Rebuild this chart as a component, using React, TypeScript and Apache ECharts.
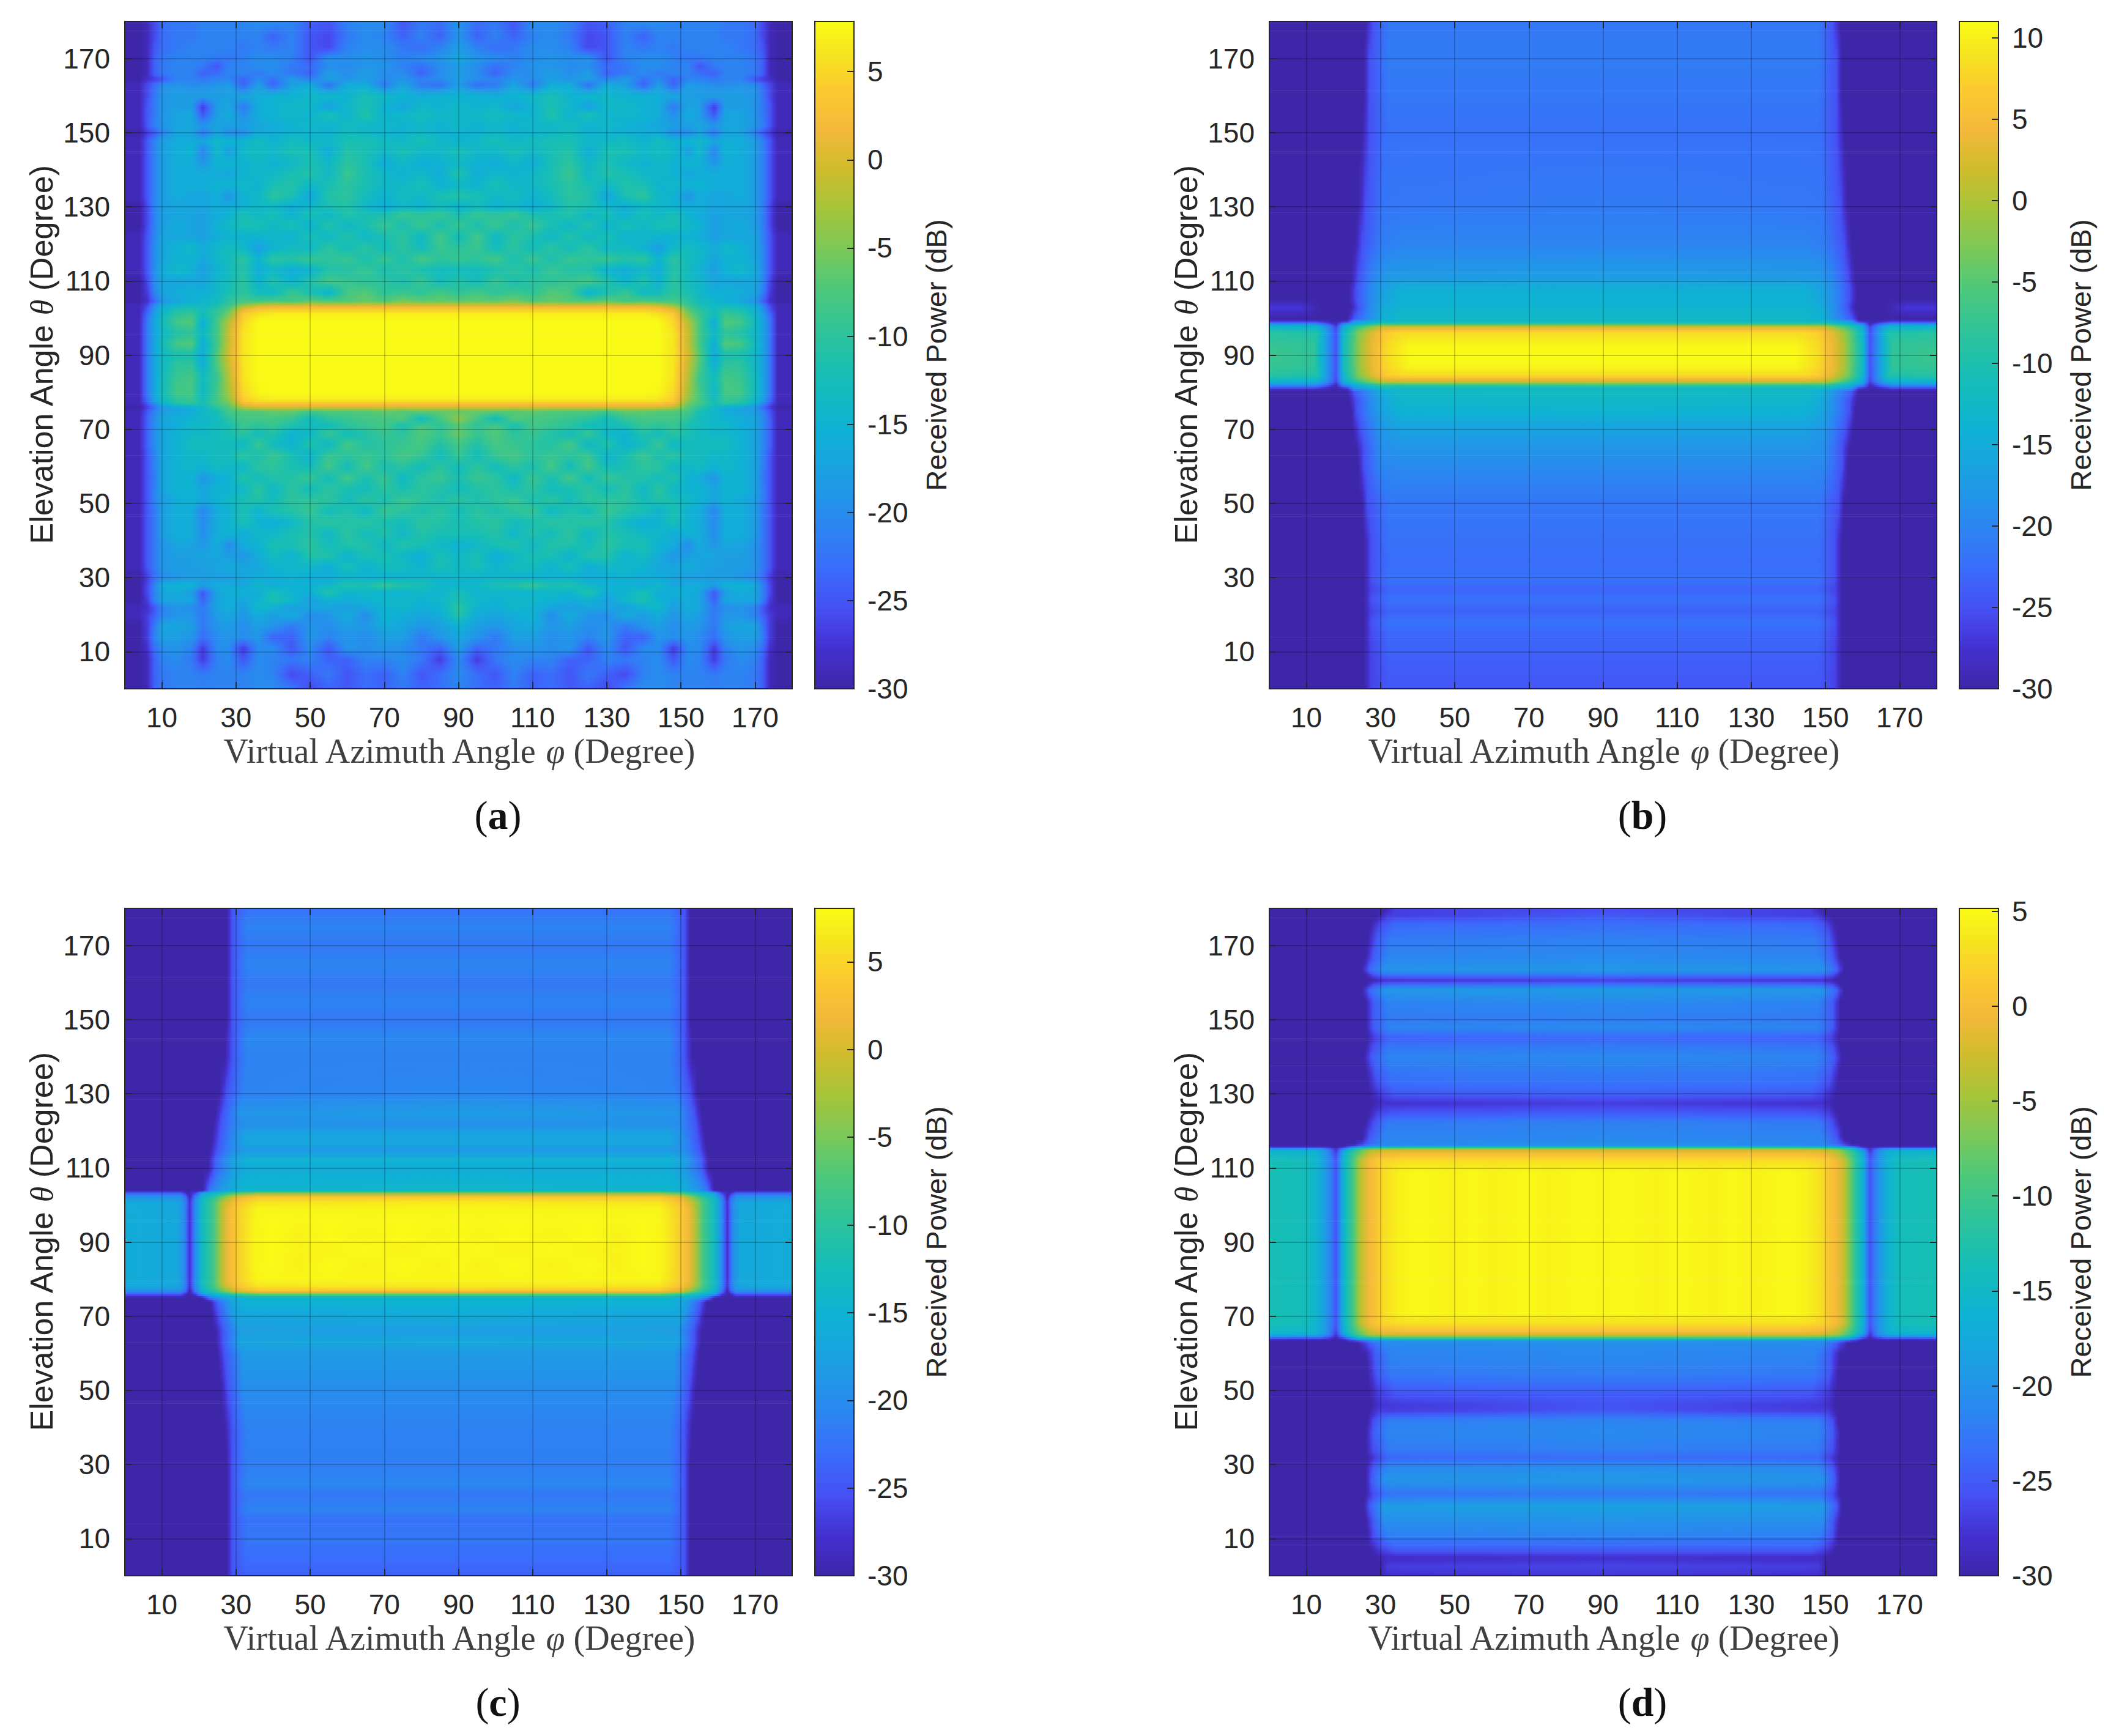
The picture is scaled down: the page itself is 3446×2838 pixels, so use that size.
import React, { useEffect, useRef } from "react";
import * as echarts from "echarts";

// ---- axis ticks ----
const angleTicks = [10, 30, 50, 70, 90, 110, 130, 150, 170];
const colorTicksA = [-30, -25, -20, -15, -10, -5, 0, 5];
const colorTicksB = [-30, -25, -20, -15, -10, -5, 0, 5, 10];
const colorMaxA = 7.85;
const colorMaxB = 11;
const colorMaxC = 8.05;
const colorMaxD = 5.15;

// colour scale: [position, colour]
const colorScale: [number, string][] = [
  [0, "#3e26a8"], [0.06, "#4430d0"], [0.12, "#4650f4"], [0.18, "#3a6cfb"], [0.25, "#2a88f0"],
  [0.32, "#1c9fe2"], [0.39, "#0eb2d4"], [0.46, "#14bdb9"], [0.53, "#2cc39c"], [0.6, "#4dc87a"],
  [0.66, "#7cc858"], [0.72, "#a6c43a"], [0.78, "#d0bc2c"], [0.84, "#f5b83a"], [0.9, "#fbcb2e"],
  [0.95, "#f6e41f"], [1, "#f9fb15"],
];

// ---- readings: left half of every map, phi in 0..90, the pictures are mirrored about phi = 90 ----
// Panel (a): one row per theta, values at these phi knots
const aPhi = [4, 6, 8, 10, 14, 18, 21, 25, 28, 32, 36, 40, 45, 50, 55, 60, 65, 70, 75, 80, 85, 90];
const aMatrix: number[][] = [
  [0, -30,-29,-24,-22,-21,-21,-21,-21,-21,-21,-20,-20,-22,-26,-24,-25,-23,-24,-22,-24,-23,-21],
  [4, -30,-29,-24,-22,-21,-21,-22,-21,-21,-21,-20,-21,-26,-24,-22,-25,-23,-24,-21,-25,-23,-20],
  [8, -30,-29,-24,-21,-20,-22,-27,-21,-20,-25,-20,-21,-22,-21,-24,-24,-21,-21,-20,-22,-27,-20],
  [11, -30,-28,-23,-20,-19,-21,-27,-20,-20,-27,-20,-20,-25,-20,-25,-19,-20,-19,-20,-22,-24,-18],
  [14, -30,-27,-21,-18,-18,-19,-23,-20,-19,-20,-19,-24,-24,-19,-21,-19,-20,-18,-18,-22,-19,-17],
  [17, -30,-27,-22,-17,-17,-18,-22,-19,-18,-20,-18,-19,-22,-19,-20,-18,-19,-16,-17,-19,-18,-15],
  [20, -29,-27,-24,-21,-19,-19,-22,-18,-17,-19,-16,-18,-16,-20,-19,-16,-20,-15,-16,-17,-16,-11],
  [22, -29,-28,-25,-21,-19,-20,-22,-17,-16,-18,-14,-15,-18,-17,-17,-18,-17,-15,-14,-16,-15,-10],
  [24, -30,-27,-21,-17,-17,-17,-24,-17,-16,-17,-15,-12,-14,-18,-15,-16,-15,-14,-14,-15,-14,-12],
  [26, -30,-26,-21,-17,-16,-18,-25,-17,-16,-15,-16,-12,-15,-16,-11,-15,-14,-15,-15,-14,-15,-12],
  [28, -30,-26,-21,-16,-15,-15,-18,-16,-16,-17,-14,-16,-15,-15,-14,-11,-12,-9,-11,-12,-14,-15],
  [30, -30,-27,-23,-20,-19,-18,-18,-18,-18,-17,-16,-16,-15,-16,-16,-15,-15,-15,-15,-14,-15,-14],
  [33, -29,-25,-22,-19,-18,-18,-18,-17,-16,-17,-17,-15,-14,-14,-16,-12,-15,-13,-13,-15,-12,-14],
  [36, -29,-25,-22,-19,-18,-18,-17,-17,-18,-19,-16,-13,-15,-11,-11,-15,-12,-12,-14,-16,-12,-14],
  [39, -29,-25,-22,-19,-17,-17,-19,-16,-20,-16,-15,-12,-12,-10,-13,-11,-11,-14,-11,-12,-14,-15],
  [42, -29,-25,-22,-18,-16,-16,-20,-16,-15,-16,-14,-14,-12,-11,-14,-10,-13,-11,-14,-11,-12,-12],
  [45, -29,-25,-22,-18,-16,-16,-20,-16,-15,-12,-15,-16,-14,-11,-10,-11,-10,-12,-13,-10,-11,-12],
  [48, -29,-25,-22,-18,-16,-16,-21,-16,-15,-12,-15,-12,-11,-9,-13,-11,-14,-9,-10,-12,-10,-13],
  [51, -29,-25,-21,-18,-16,-15,-17,-15,-14,-12,-11,-13,-10,-10,-10,-13,-10,-12,-9,-10,-12,-10],
  [54, -29,-25,-21,-17,-15,-15,-17,-15,-15,-14,-10,-14,-10,-13,-10,-12,-13,-10,-12,-10,-11,-13],
  [57, -29,-25,-22,-17,-15,-15,-19,-16,-15,-11,-13,-11,-11,-9,-13,-8,-12,-9,-14,-10,-9,-12],
  [60, -29,-25,-21,-17,-15,-14,-15,-13,-14,-14,-10,-10,-12,-13,-8,-13,-8,-12,-10,-13,-10,-13],
  [63, -29,-25,-21,-17,-15,-14,-14,-13,-13,-10,-12,-9,-12,-15,-9,-10,-9,-10,-8,-9,-13,-9],
  [66, -29,-24,-20,-17,-15,-13,-13,-13,-13,-14,-9,-13,-15,-11,-14,-8,-11,-10,-9,-8,-11,-8],
  [69, -29,-24,-20,-17,-15,-14,-14,-13,-12,-10,-13,-11,-15,-14,-9,-13,-11,-9,-10,-7,-9,-6],
  [71, -29,-24,-20,-17,-16,-14,-14,-13,-12,-9,-10,-9,-12,-13,-13,-10,-9,-8,-12,-8,-10,-7],
  [73, -29,-24,-20,-17,-16,-15,-14,-13,-10,-8,-8,-8,-9,-13,-10,-9,-8,-8,-7,-13,-8,-4],
  [75, -29,-25,-21,-18,-17,-16,-14,-12,-8,-7,-7,-6,-6,-8,-7,-7,-7,-6,-7,-6,-6,-6],
  [76, -30,-27,-23,-19,-17,-16,-14,-10,-7,-2,0,0],
  [77, -29,-25,-20,-15,-11,-10,-12,-8,-6,2,3,3],
  [78, -29,-23,-17,-14,-10,-9,-13,-8,-4,4,6,6.5],
  [80, -29,-22,-17,-13,-8,-8,-14,-8,-3,5,7.3,7.8],
  [84, -29,-22,-17,-13,-9,-8,-13,-9,-2,6,7.8],
  [88, -29,-22,-17,-14,-10,-10,-16,-7,-1,6,7.8],
  [90, -29,-22,-17,-14,-12,-12,-16,-7,0,6,7.8],
  [93, -29,-22,-17,-13,-8,-7,-16,-8,-1,6,7.8],
  [96, -29,-22,-17,-14,-11,-10,-14,-8,-1,6,7.8],
  [99, -29,-22,-17,-13,-8,-7,-16,-8,-2,5,7.8],
  [101, -29,-23,-18,-14,-10,-9,-13,-9,-5,4,6,7],
  [102.5, -29,-25,-19,-15,-12,-11,-13,-10,-7,1,3,4],
  [103.5, -29,-26,-20,-16,-14,-13,-14,-12,-9,-4,-1,0],
  [104.5, -30,-28,-24,-19,-17,-16,-14,-13,-10,-8,-8,-7,-8,-6,-7,-7,-6,-7,-5,-6,-6,-6],
  [107, -30,-27,-21,-17,-16,-15,-16,-14,-12,-10,-13,-14,-9,-12,-15,-8,-7,-10,-9,-10,-8,-10],
  [110, -30,-26,-20,-17,-17,-17,-17,-14,-13,-10,-15,-11,-15,-11,-8,-9,-10,-10,-12,-9,-13,-11],
  [113, -29,-25,-20,-16,-14,-15,-18,-15,-13,-11,-16,-14,-16,-15,-11,-11,-9,-12,-10,-12,-13,-13],
  [116, -29,-25,-20,-17,-15,-15,-17,-14,-13,-10,-15,-10,-11,-9,-10,-9,-12,-9,-12,-8,-10,-9],
  [119, -29,-25,-20,-17,-15,-14,-16,-14,-13,-14,-18,-15,-13,-14,-10,-13,-10,-13,-10,-13,-9,-10],
  [122, -29,-25,-21,-17,-17,-17,-18,-16,-15,-15,-15,-14,-15,-12,-14,-11,-14,-12,-10,-14,-8,-13],
  [125, -30,-26,-21,-18,-16,-17,-18,-15,-14,-12,-12,-14,-12,-15,-11,-14,-12,-9,-12,-9,-12,-9],
  [128, -30,-26,-21,-18,-17,-17,-18,-16,-15,-12,-14,-12,-15,-12,-14,-11,-12,-12,-9,-10,-9,-12],
  [130, -30,-26,-21,-18,-17,-17,-17,-16,-16,-15,-14,-14,-16,-14,-12,-11,-14,-16,-14,-15,-13,-15],
  [133, -29,-25,-21,-18,-16,-17,-17,-16,-19,-15,-14,-10,-12,-17,-11,-10,-13,-15,-13,-14,-12,-11],
  [136, -29,-25,-21,-18,-16,-16,-16,-15,-15,-14,-15,-12,-11,-14,-12,-10,-12,-14,-14,-12,-15,-14],
  [139, -29,-25,-21,-18,-16,-16,-16,-16,-17,-15,-14,-14,-12,-11,-14,-9,-12,-14,-15,-14,-16,-11],
  [142, -29,-25,-21,-18,-16,-16,-19,-15,-15,-15,-14,-15,-14,-12,-14,-10,-12,-16,-14,-16,-15,-14],
  [145, -29,-25,-21,-18,-16,-15,-21,-14,-18,-14,-13,-14,-12,-12,-16,-11,-12,-14,-12,-14,-14,-12],
  [148, -29,-25,-21,-18,-16,-16,-17,-14,-15,-15,-13,-15,-13,-14,-14,-12,-12,-13,-14,-12,-14,-15],
  [150, -30,-27,-25,-21,-17,-17,-22,-17,-20,-20,-16,-16,-15,-15,-15,-13,-14,-15,-15,-14,-15,-15],
  [152, -29,-25,-21,-19,-17,-17,-19,-17,-18,-18,-17,-16,-15,-14,-15,-13,-14,-14,-15,-14,-15,-14],
  [155, -29,-25,-22,-19,-17,-17,-25,-18,-16,-20,-16,-15,-14,-15,-12,-15,-11,-15,-14,-13,-14,-14],
  [157, -29,-25,-22,-19,-18,-18,-27,-18,-17,-22,-16,-15,-14,-14,-18,-14,-12,-15,-17,-14,-15,-14],
  [160, -29,-26,-22,-19,-18,-18,-18,-18,-18,-17,-16,-15,-15,-14,-14,-15,-12,-14,-15,-16,-15,-15],
  [163, -29,-26,-23,-20,-19,-20,-20,-19,-18,-24,-18,-24,-18,-16,-23,-16,-16,-22,-17,-22,-23,-18],
  [164.5, -30,-28,-27,-25,-21,-21,-22,-21,-21,-24,-20,-23,-18,-21,-18,-19,-18,-20,-19,-21,-20,-18],
  [166, -30,-29,-24,-22,-21,-21,-24,-23,-21,-21,-22,-20,-22,-24,-18,-20,-18,-20,-20,-24,-20,-18],
  [168, -30,-29,-24,-22,-21,-21,-22,-25,-21,-21,-20,-20,-22,-23,-20,-20,-19,-19,-21,-23,-20,-18],
  [170, -30,-29,-24,-22,-21,-21,-21,-22,-22,-21,-20,-20,-21,-25,-19,-20,-19,-20,-21,-20,-19,-17],
  [173, -30,-29,-25,-23,-22,-21,-21,-21,-21,-22,-21,-22,-21,-25,-26,-21,-20,-20,-22,-23,-21,-18],
  [176, -30,-29,-26,-23,-22,-22,-21,-21,-21,-21,-21,-24,-21,-25,-26,-22,-20,-21,-24,-21,-24,-19],
  [180, -30,-29,-26,-23,-22,-22,-21,-21,-21,-21,-20,-20,-21,-24,-25,-21,-20,-20,-25,-22,-23,-19],
];

// Panels (b)-(d): [theta, phi, value, phi, value, ...]
const bRows: number[][] = [
  [0, 25.5,-30, 27.5,-26, 32,-24.5, 90,-24.5],
  [6, 25.5,-30, 27.5,-26, 32,-24, 90,-24],
  [10, 25.5,-30, 27.5,-26, 32,-23.5, 90,-23.5],
  [15, 25.5,-30, 27.5,-25.5, 32,-23, 90,-23],
  [18, 25.5,-30, 27.5,-25, 32,-22, 90,-22],
  [21, 25.5,-30, 27.5,-26, 32,-23.5, 90,-23.5],
  [24, 25.5,-30, 27.5,-25, 32,-22.2, 90,-22.2],
  [27, 25.5,-30, 27.5,-26, 32,-23.2, 90,-23.2],
  [30, 25.5,-30, 27.5,-25, 32,-22, 90,-22],
  [35, 25.5,-30, 27.5,-25, 32,-22.5, 90,-22.5],
  [40, 25.5,-30, 27.5,-25, 32,-22, 90,-22],
  [50, 25,-30, 26.5,-25, 32,-21.5, 90,-21.5],
  [60, 24,-30, 25.5,-25, 30,-20, 36,-19.5, 90,-19.5],
  [65, 23.5,-30, 25.5,-25, 30,-19, 36,-18, 90,-18],
  [70, 22.5,-30, 24.5,-25, 30,-18, 36,-16.5, 90,-16.5],
  [75, 22,-30, 23.5,-25, 27,-20, 31,-16, 36,-14, 90,-13.5],
  [78, 21.5,-30, 23.5,-25, 27,-20, 30,-16, 35,-13, 90,-12.5],
  [80.5, 21,-30, 23,-24, 27,-19, 31,-14, 36,-12.5, 90,-12],
  [81, 0,-27, 12,-27, 17,-30, 21,-28, 23,-18, 30,-13, 90,-13],
  [82, 0,-19, 12,-19, 15,-23, 18,-29, 20,-20, 24,-14, 30,-8, 90,-7],
  [83, 0,-13, 13,-14, 16,-20, 18,-26, 20,-15, 24,-7, 30,1, 36,2, 90,2],
  [84.5, 0,-9, 13,-10, 16,-19, 18,-25, 20,-13, 24,-3, 28,3, 32,7, 36,8, 90,8],
  [87, 0,-7.5, 12,-8, 15,-16, 18,-25, 20,-12, 22,-7, 25,0, 28,4, 32,8, 38,10.5, 90,10.5],
  [90, 0,-7, 12,-8, 15,-16, 18,-25, 20,-12, 22,-7, 25,0, 28,4, 32,8.5, 38,11, 90,11],
  [93, 0,-7.5, 12,-8, 15,-16, 18,-25, 20,-12, 22,-7, 25,0, 28,4, 32,8, 38,10.5, 90,10.5],
  [96.3, 0,-9, 13,-10, 16,-19, 18,-25, 20,-13, 24,-3, 28,3, 32,7, 36,8, 90,8],
  [97.7, 0,-13, 13,-14, 16,-20, 18,-26, 20,-15, 24,-7, 30,1, 36,2, 90,2],
  [98.5, 0,-19, 12,-19, 15,-23, 18,-29, 20,-20, 24,-14, 30,-8, 90,-7],
  [99.2, 0,-27, 12,-27, 17,-30, 21,-28, 23,-18, 30,-13, 90,-13],
  [99.8, 21,-30, 23,-24, 27,-19, 31,-14, 36,-12.5, 90,-12.5],
  [103, 0,-27, 8,-27, 14,-30, 22,-30, 24,-25, 27,-20, 31,-15, 36,-13.5, 90,-13.5],
  [105, 21.5,-30, 23.5,-25, 27,-20, 31,-16, 36,-14, 90,-14],
  [108, 21.5,-30, 23.5,-25, 27,-20, 30,-17, 36,-14.5, 90,-14.5],
  [111, 22,-30, 24,-25, 28,-20, 32,-17.5, 90,-17],
  [120, 23,-30, 25,-25, 30,-21, 36,-20, 90,-20],
  [130, 24,-30, 26,-25, 31,-21.5, 90,-21],
  [150, 25,-30, 27,-25, 32,-22, 90,-22],
  [160, 25.5,-30, 27,-25, 32,-21.5, 90,-21.5],
  [170, 25.5,-30, 27,-25, 32,-21, 90,-21],
  [180, 26,-30, 28,-25, 32,-21.5, 90,-21.5],
];

const cWideMid = [0,-16, 14,-16.5, 16,-20, 17.5,-28, 19,-20, 21,-13, 24,-8, 26.5,-1, 28,2, 32,5.5];
const cRows: number[][] = [
  [0, 27.5,-30, 29,-25, 33,-24, 90,-24],
  [5, 27.5,-30, 29,-25, 33,-23, 90,-23],
  [10, 27.5,-30, 29,-25, 33,-22, 90,-22],
  [15, 27.5,-30, 29,-25, 33,-22.5, 90,-22.5],
  [18, 27.5,-30, 29,-25, 33,-21, 90,-21],
  [22, 27.5,-30, 29,-25, 33,-22, 90,-22],
  [25, 27.5,-30, 29,-25, 33,-20.5, 90,-20.5],
  [30, 27.5,-30, 29,-25, 33,-21.5, 90,-21.5],
  [40, 27,-30, 29,-25, 33,-21, 90,-21],
  [50, 26,-30, 28,-25, 32,-20, 90,-20],
  [55, 25.5,-30, 27.5,-25, 32,-19, 90,-19],
  [60, 25,-30, 27,-25, 32,-18.5, 90,-18.5],
  [63, 24.5,-30, 26.5,-25, 31,-17, 90,-16.5],
  [66, 24.5,-30, 26.5,-25, 31,-18, 90,-18],
  [70, 23.5,-30, 25.5,-25, 30,-17, 90,-16],
  [74, 23,-30, 25,-24, 29,-17, 33,-15, 90,-15],
  [75, 21,-30, 23,-22, 26,-18, 32,-15, 90,-15],
  [76, 0,-25, 15,-25, 17,-30, 19,-27, 21,-18, 25,-14, 30,-9, 36,-6, 90,-6],
  [76.8, 0,-20, 15,-20, 16.5,-24, 17.5,-30, 19,-22, 21,-15, 25,-9, 30,0, 36,3, 90,3],
  [78, 0,-16.5, 13,-17, 15,-18, 16.5,-22, 17.5,-28, 19,-20, 21,-13, 24,-8, 27,-1, 30,3, 36,6, 90,6.5],
  [80, ...cWideMid, 36,7.6, 90,7.6],
  [84, ...cWideMid, 35,7.5, 40,8, 47,7.2, 55,8, 65,7.3, 75,8, 85,7.3, 90,7.9],
  [88, ...cWideMid, 35,7.5, 40,8, 47,7.4, 55,7.4, 65,8, 75,7.3, 85,8, 90,7.6],
  [91, ...cWideMid, 35,7.5, 40,8, 47,7.2, 55,8, 65,7.4, 75,8, 85,7.4, 90,8],
  [95, ...cWideMid, 35,7.5, 40,8, 47,7.6, 55,8, 65,7.7, 75,8, 85,7.7, 90,8],
  [99, ...cWideMid, 36,7.6, 90,7.6],
  [101, 0,-16.5, 13,-17, 15,-18, 16.5,-22, 17.5,-28, 19,-20, 21,-13, 24,-8, 27,-1, 30,3, 36,6, 90,6.5],
  [102.5, 0,-20, 15,-20, 16.5,-24, 17.5,-30, 19,-22, 21,-15, 25,-9, 30,0, 36,3, 90,3],
  [103.4, 0,-25, 15,-25, 17,-30, 19,-27, 21,-18, 25,-14, 30,-9, 36,-6, 90,-6],
  [104, 21,-30, 23,-22, 26,-18, 32,-14.5, 90,-14],
  [110, 22.5,-30, 24.5,-24, 29,-18, 33,-16, 90,-16],
  [112, 22.5,-30, 24.5,-24, 29,-17.5, 33,-15, 90,-15],
  [115, 23,-30, 25,-25, 29,-20, 33,-18.5, 90,-18.5],
  [118, 23.5,-30, 25.5,-25, 30,-19, 33,-16.5, 90,-16.5],
  [122, 24,-30, 26,-25, 30,-20.5, 33,-19.5, 90,-19.5],
  [125, 24.5,-30, 26.5,-25, 31,-19, 90,-18],
  [130, 25.5,-30, 27.5,-25, 32,-21, 90,-20.5],
  [140, 27,-30, 29,-25, 33,-21, 90,-21],
  [145, 27,-30, 29,-25, 33,-20.5, 90,-20.5],
  [150, 27.5,-30, 29,-25, 33,-22, 90,-22],
  [155, 27.5,-30, 29,-25, 33,-21, 90,-21],
  [160, 27.5,-30, 29,-25, 33,-22, 90,-22],
  [165, 27.5,-30, 29,-25, 33,-20.8, 90,-20.8],
  [170, 27.5,-30, 29,-25, 33,-22, 90,-22],
  [175, 27.5,-30, 29,-25, 33,-21, 90,-21],
  [180, 27.5,-30, 29,-25, 33,-22.5, 90,-22.5],
];

const dSideLobe = [0,-13.5, 10,-14, 13,-16, 15,-19, 17,-23, 18,-25.5, 19,-21, 20,-16, 22,-11, 23.5,-7, 25,-3];
const dRows: number[][] = [
  [0, 29,-30, 32,-28, 90,-27.5],
  [2.6, 30,-30, 32,-27, 90,-26.5],
  [5, 29,-30, 32,-28.5, 90,-28],
  [7, 27.5,-30, 30,-27, 34,-25, 90,-25],
  [10.7, 26.5,-30, 28,-26, 32,-22, 90,-21.5],
  [15, 26,-30, 28,-25, 31,-20.5, 90,-20],
  [19, 25.5,-30, 27,-25, 31,-19, 90,-18.5],
  [22, 26,-30, 28,-26, 32,-23, 90,-22.5],
  [26, 26,-30, 27.5,-25, 31,-20, 90,-19.5],
  [29, 26,-30, 28,-25, 32,-21, 90,-20.5],
  [32, 26.5,-30, 28.5,-27, 32,-24, 90,-23.5],
  [34, 26,-30, 28,-26, 32,-22.5, 90,-22],
  [38.5, 26,-30, 28,-25, 32,-21.5, 90,-21],
  [42, 26.5,-30, 28,-26, 32,-22, 90,-21.5],
  [44.5, 27,-30, 29.5,-27, 90,-25],
  [46, 27.5,-30, 30,-27.5, 90,-25.5],
  [49.7, 27,-30, 29.5,-27, 34,-25, 90,-24.5],
  [54.6, 26.5,-30, 29,-25, 33,-22.5, 90,-22],
  [60, 26,-30, 28.5,-25, 33,-21.5, 90,-21],
  [62.8, 24,-30, 27,-25, 31,-21, 90,-20.5],
  [63.6, 20,-30, 24,-25, 28,-20, 90,-19],
  [64, 0,-26, 14,-26, 18,-30, 20,-27, 24,-17, 30,-14, 36,-12, 90,-12],
  [65, 0,-17, 13,-18, 16,-22, 18,-28, 20,-20, 23,-12, 27,-5, 32,-3, 90,-3],
  [66, 0,-15, 12,-15.5, 15,-19, 18,-26.5, 20,-17, 22,-12, 24,-8, 27,-3, 30,-1, 36,0, 90,0],
  [68, ...dSideLobe, 27,-0.5, 30,2, 36,3, 90,3],
  [71, ...dSideLobe, 27,-0.5, 29,1, 31,3, 35,4.3, 40,5, 50,4.4, 55,5, 60,4.4, 70,5, 75,4.5, 85,5, 90,4.7],
  [90, ...dSideLobe, 27,-0.5, 29,1, 31,3, 35,4.3, 40,5, 50,4.4, 55,5, 60,4.4, 70,5, 75,4.5, 85,5, 90,4.7],
  [109, ...dSideLobe, 27,-0.5, 29,1, 31,3, 35,4.3, 40,5, 50,4.4, 55,5, 60,4.4, 70,5, 75,4.5, 85,5, 90,4.7],
  [112, ...dSideLobe, 27,-0.5, 30,2, 36,3, 90,3],
  [114, 0,-15, 12,-15.5, 15,-19, 18,-26.5, 20,-17, 22,-12, 24,-8, 27,-3, 30,-1, 36,0, 90,0],
  [115, 0,-17, 13,-18, 16,-22, 18,-28, 20,-20, 23,-12, 27,-5, 32,-3, 90,-3],
  [115.6, 0,-26, 14,-26, 18,-30, 20,-27, 24,-17, 30,-14, 36,-12, 90,-12],
  [116, 20,-30, 24,-25, 28,-20, 90,-19],
  [116.5, 23,-30, 26,-25, 30,-21.5, 90,-20.5],
  [118, 25,-30, 27,-25, 31,-21.5, 90,-21],
  [122.5, 26,-30, 28,-26, 32,-22.5, 90,-22],
  [125, 27,-30, 29,-27, 33,-25.5, 90,-25],
  [127.6, 28,-30, 31,-28, 90,-27],
  [130, 27,-30, 30,-27, 34,-25, 90,-24.5],
  [133, 26.5,-30, 29,-26, 33,-23.5, 90,-23],
  [136.6, 26,-30, 28.5,-25, 33,-22.5, 90,-22],
  [140, 25.5,-30, 27.5,-25, 32,-21.5, 90,-21],
  [143, 26,-30, 28,-26, 32,-23, 90,-22.5],
  [145, 26.5,-30, 28.5,-27, 32,-24.5, 90,-24],
  [148, 26,-30, 28,-25, 32,-21.5, 90,-21],
  [150, 26,-30, 28,-25, 32,-22.5, 90,-22],
  [155, 26,-30, 28,-25, 32,-21.5, 90,-21],
  [158, 25,-30, 27,-24, 31,-19.5, 90,-19],
  [159.5, 26,-30, 28,-26, 32,-23.5, 90,-23],
  [160.7, 27.5,-30, 31,-28, 90,-27],
  [162, 26,-30, 28,-26, 32,-23.5, 90,-23],
  [163.5, 25,-30, 27,-24, 31,-20, 90,-19.5],
  [167, 26,-30, 28,-25, 32,-21.5, 90,-21],
  [172, 26.5,-30, 29,-25, 33,-22.5, 90,-22],
  [176, 27.5,-30, 30,-26, 34,-24, 90,-23.5],
  [178, 29,-30, 32,-27, 90,-25],
  [180, 31,-30, 34,-27, 90,-26],
];

const captionLetters = ["a", "b", "c", "d"];
const axisNameX = ["Virtual Azimuth Angle ", "φ", " (Degree)"];
const axisNameY = ["Elevation Angle ", "θ", " (Degree)"];
const colorbarName = "Received Power (dB)";

// ---- helpers ----
type Row = { theta: number; pts: [number, number][] };

const fromMatrix = (m: number[][]): Row[] =>
  m.map((r) => ({ theta: r[0], pts: r.slice(1).map((v, i) => [aPhi[i], v] as [number, number]) }));
const fromPairs = (m: number[][]): Row[] =>
  m.map((r) => {
    const pts: [number, number][] = [];
    for (let i = 1; i + 1 < r.length; i += 2) pts.push([r[i], r[i + 1]]);
    return { theta: r[0], pts };
  });

const readRow = (row: Row, phi: number) => {
  const p = phi > 90 ? 180 - phi : phi;
  const pts = row.pts;
  if (p <= pts[0][0]) return pts[0][1];
  for (let i = 1; i < pts.length; i++) {
    if (p <= pts[i][0]) {
      const [x0, y0] = pts[i - 1];
      const [x1, y1] = pts[i];
      return y0 + ((y1 - y0) * (p - x0)) / (x1 - x0 || 1);
    }
  }
  return pts[pts.length - 1][1];
};

const hexToRgb = (h: string) => [parseInt(h.slice(1, 3), 16), parseInt(h.slice(3, 5), 16), parseInt(h.slice(5, 7), 16)];
const scaleRgb = colorScale.map(([t, c]) => [t, hexToRgb(c)] as [number, number[]]);
const toColor = (t: number) => {
  const q = Math.max(0, Math.min(1, t));
  for (let i = 1; i < scaleRgb.length; i++) {
    if (q <= scaleRgb[i][0]) {
      const [t0, c0] = scaleRgb[i - 1];
      const [t1, c1] = scaleRgb[i];
      const k = (q - t0) / (t1 - t0);
      return `rgb(${c0.map((c, j) => Math.round(c + (c1[j] - c) * k)).join(",")})`;
    }
  }
  return colorScale[colorScale.length - 1][1];
};

const stopPhis = (a: Row, b: Row) => {
  const set = new Set<number>([0, 90]);
  a.pts.forEach((p) => set.add(p[0]));
  b.pts.forEach((p) => set.add(p[0]));
  const left = [...set].sort((x, y) => x - y);
  const out: number[] = [];
  for (let i = 0; i < left.length; i++) {
    out.push(left[i]);
    if (i + 1 < left.length) {
      const d = Math.max(
        Math.abs(readRow(a, left[i]) - readRow(a, left[i + 1])),
        Math.abs(readRow(b, left[i]) - readRow(b, left[i + 1])),
      );
      const n = Math.min(5, Math.ceil(d / 3.5));
      for (let k = 1; k < n; k++) out.push(left[i] + ((left[i + 1] - left[i]) * k) / n);
    }
  }
  const right = out.slice(0, -1).reverse().map((p) => 180 - p);
  return [...out, ...right];
};

const mapRenderer = (rows: Row[], max: number) => (_: any, api: any) => {
  const i = api.value(3);
  const a = rows[i];
  const b = rows[i + 1];
  const phis = stopPhis(a, b);
  const span = b.theta - a.theta;
  const n = Math.max(1, Math.ceil(span / 0.5));
  const children: any[] = [];
  const [x0] = api.coord([0, a.theta]);
  const [x1] = api.coord([180, a.theta]);
  for (let s = 0; s < n; s++) {
    const k = (s + 0.5) / n;
    const yLow = api.coord([0, a.theta + (span * s) / n])[1];
    const yHigh = api.coord([0, a.theta + (span * (s + 1)) / n])[1];
    const stops = phis.map((p) => {
      const v = readRow(a, p) * (1 - k) + readRow(b, p) * k;
      return { offset: p / 180, color: toColor((v + 30) / (max + 30)) };
    });
    children.push({
      type: "rect",
      silent: true,
      shape: { x: x0, y: yHigh, width: x1 - x0, height: yLow - yHigh + 0.7 },
      style: { fill: new echarts.graphic.LinearGradient(0, 0, 1, 0, stops) },
    });
  }
  return { type: "group", children };
};

const barRenderer = () => (_: any, api: any) => {
  const [x0, yTop] = api.coord([0, api.value(1)]);
  const [x1, yBottom] = api.coord([1, api.value(0)]);
  return {
    type: "rect",
    silent: true,
    shape: { x: x0, y: yTop, width: x1 - x0, height: yBottom - yTop },
    style: {
      fill: new echarts.graphic.LinearGradient(0, 1, 0, 0, colorScale.map(([offset, color]) => ({ offset, color }))),
    },
  };
};

const SANS = "Liberation Sans";
const SERIF = "Liberation Serif";
const INK = "#262626";
const TICK_FONT = 46;
const NAME_FONT = 52;
const XNAME_FONT = 56;
const BARNAME_FONT = 47;

function buildOption() {
  const panels = [
    { rows: fromMatrix(aMatrix), max: colorMaxA, ticks: colorTicksA, left: 204, top: 35 },
    { rows: fromPairs(bRows), max: colorMaxB, ticks: colorTicksB, left: 2075, top: 35 },
    { rows: fromPairs(cRows), max: colorMaxC, ticks: colorTicksA, left: 204, top: 1485 },
    { rows: fromPairs(dRows), max: colorMaxD, ticks: colorTicksA, left: 2075, top: 1485 },
  ];
  const grid: any[] = [];
  const xAxis: any[] = [];
  const yAxis: any[] = [];
  const series: any[] = [];
  const graphic: any[] = [];

  const lineStyle = { color: INK, width: 2 };
  const frameAxis = (gridIndex: number, position: string, extent: [number, number], ticks: number[] | null) => ({
    type: "value",
    gridIndex,
    position,
    min: extent[0],
    max: extent[1],
    z: 6,
    axisLine: { show: true, onZero: false, lineStyle },
    axisTick: ticks
      ? { show: true, inside: true, length: 11, customValues: ticks, lineStyle }
      : { show: false },
    axisLabel: { show: false, ...(ticks ? { customValues: ticks } : {}) },
    splitLine: { show: false },
  });

  panels.forEach((p, idx) => {
    const mapGrid = grid.length;
    grid.push({ left: p.left, top: p.top, width: 1091, height: 1091 });
    const barGrid = grid.length;
    grid.push({ left: p.left + 1128, top: p.top, width: 64, height: 1091 });

    const xMain = xAxis.length;
    const grids = { color: "rgba(0,0,0,0.2)", width: 2 };
    xAxis.push({
      ...frameAxis(mapGrid, "bottom", [0, 180], angleTicks),
      axisLabel: { show: true, customValues: angleTicks, fontFamily: SANS, fontSize: TICK_FONT, color: INK, margin: 24 },
      splitLine: { show: true, lineStyle: grids },
      name: `{t|${axisNameX[0]}}{g|${axisNameX[1]}}{t|${axisNameX[2]}}`,
      nameLocation: "middle",
      nameGap: 74,
      nameTextStyle: {
        rich: {
          t: { fontFamily: SERIF, fontSize: XNAME_FONT, color: "#404040" },
          g: { fontFamily: SERIF, fontStyle: "italic", fontSize: XNAME_FONT, color: "#404040" },
        },
      },
    });
    xAxis.push(frameAxis(mapGrid, "top", [0, 180], angleTicks));
    const yMain = yAxis.length;
    yAxis.push({
      ...frameAxis(mapGrid, "left", [0, 180], angleTicks),
      axisLabel: { show: true, customValues: angleTicks, fontFamily: SANS, fontSize: TICK_FONT, color: INK, margin: 24 },
      splitLine: { show: true, lineStyle: grids },
      name: `{t|${axisNameY[0]}}{g|${axisNameY[1]}}{t|${axisNameY[2]}}`,
      nameLocation: "middle",
      nameRotate: 90,
      nameGap: 110,
      nameTextStyle: {
        rich: {
          t: { fontFamily: SANS, fontSize: NAME_FONT, color: INK },
          g: { fontFamily: SERIF, fontStyle: "italic", fontSize: NAME_FONT, color: INK },
        },
      },
    });
    yAxis.push(frameAxis(mapGrid, "right", [0, 180], angleTicks));

    series.push({
      type: "custom",
      coordinateSystem: "cartesian2d",
      xAxisIndex: xMain,
      yAxisIndex: yMain,
      z: 1,
      silent: true,
      clip: true,
      encode: { x: 0, y: [1, 2] },
      data: p.rows.slice(0, -1).map((r, i) => [0, r.theta, p.rows[i + 1].theta, i]),
      renderItem: mapRenderer(p.rows, p.max),
    });

    // colour bar
    const xBar = xAxis.length;
    xAxis.push(frameAxis(barGrid, "bottom", [0, 1], null));
    xAxis.push(frameAxis(barGrid, "top", [0, 1], null));
    const yBar = yAxis.length;
    yAxis.push({
      ...frameAxis(barGrid, "right", [-30, p.max], p.ticks),
      axisLabel: { show: true, customValues: p.ticks, fontFamily: SANS, fontSize: TICK_FONT, color: INK, margin: 22 },
      name: colorbarName,
      nameLocation: "middle",
      nameRotate: 90,
      nameGap: 111,
      nameTextStyle: { fontFamily: SANS, fontSize: BARNAME_FONT, color: INK },
    });
    yAxis.push(frameAxis(barGrid, "left", [-30, p.max], null));
    series.push({
      type: "custom",
      coordinateSystem: "cartesian2d",
      xAxisIndex: xBar,
      yAxisIndex: yBar,
      z: 1,
      silent: true,
      encode: { x: 2, y: [0, 1] },
      data: [[-30, p.max, 0]],
      renderItem: barRenderer(),
    });

    graphic.push({
      type: "text",
      x: p.left + 610,
      y: p.top + 1297,
      style: {
        text: `{p|(}{b|${captionLetters[idx]}}{p|)}`,
        align: "center",
        verticalAlign: "middle",
        rich: {
          p: { fontFamily: SERIF, fontSize: 66, fill: "#111111" },
          b: { fontFamily: SERIF, fontWeight: "bold", fontSize: 66, fill: "#111111" },
        },
      },
    });
  });

  return { animation: false, backgroundColor: "#ffffff", grid, xAxis, yAxis, series, graphic };
}

export default function App() {
  const ref = useRef<HTMLDivElement>(null);
  useEffect(() => {
    document.body.style.margin = "0";
    const chart = echarts.init(ref.current!, undefined, { renderer: "svg" });
    chart.setOption(buildOption() as any);
    return () => chart.dispose();
  }, []);
  return <div ref={ref} style={{ position: "absolute", left: 0, top: 0, width: 3446, height: 2838 }} />;
}
